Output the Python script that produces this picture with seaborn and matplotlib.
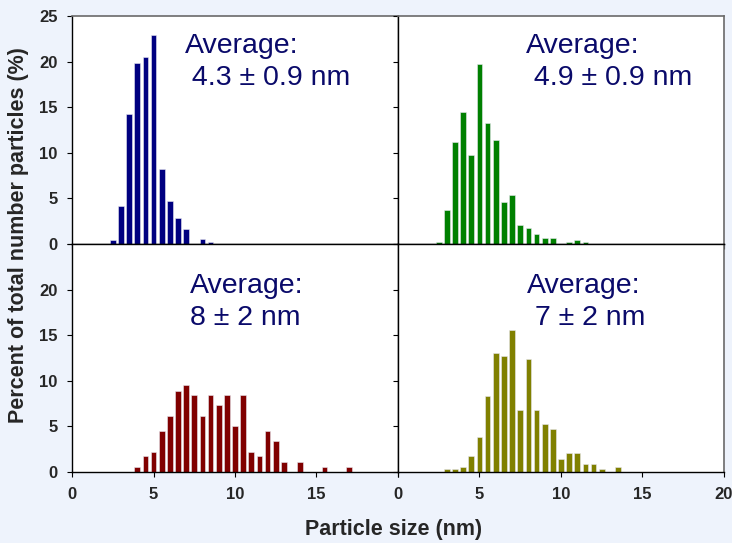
import numpy as np
import pandas as pd
import seaborn as sns
import matplotlib.pyplot as plt

sns.set_style("ticks")
plt.rcParams['font.family'] = ['Liberation Sans', 'DejaVu Sans']

# bin centres (nm) and percent of particles
size_a = [2.5, 3.0, 3.5, 4.0, 4.5, 5.0, 5.5, 6.0, 6.5, 7.0, 8.0, 8.5]
pct_a = [0.45, 4.2, 14.25, 19.9, 20.5, 22.95, 8.25, 4.7, 2.9, 1.6, 0.5, 0.2]

size_b = [2.5, 3.0, 3.5, 4.0, 4.5, 5.0, 5.5, 6.0, 6.5, 7.0, 7.5, 8.0, 8.5,
          9.0, 9.5, 10.5, 11.0, 11.5]
pct_b = [0.2, 3.7, 11.2, 14.5, 9.75, 19.7, 13.3, 11.4, 4.6, 5.4, 2.1, 1.7,
         1.05, 0.65, 0.65, 0.2, 0.45, 0.2]

size_c = [4.0, 4.5, 5.0, 5.5, 6.0, 6.5, 7.0, 7.5, 8.0, 8.5, 9.0, 9.5, 10.0,
          10.5, 11.0, 11.5, 12.0, 12.5, 13.0, 14.0, 15.5, 17.0]
pct_c = [0.55, 1.7, 2.2, 4.45, 6.1, 8.9, 9.5, 8.4, 6.1, 8.4, 7.3, 8.4, 5.0,
         8.4, 2.2, 1.7, 4.45, 3.35, 1.1, 1.1, 0.55, 0.55]

size_d = [3.0, 3.5, 4.0, 4.5, 5.0, 5.5, 6.0, 6.5, 7.0, 7.5, 8.0, 8.5, 9.0,
          9.5, 10.0, 10.5, 11.0, 11.5, 12.0, 12.5, 13.5]
pct_d = [0.3, 0.3, 0.6, 1.8, 3.85, 8.3, 13.0, 12.7, 15.6, 6.8, 12.4, 6.8,
         5.3, 4.7, 1.45, 2.1, 2.1, 0.9, 0.9, 0.3, 0.6]

labels = ["Average:\n 4.3 \u00b1 0.9 nm", "Average:\n 4.9 \u00b1 0.9 nm",
          "Average:\n8 \u00b1 2 nm", "Average:\n 7 \u00b1 2 nm"]
colors = ["#000080", "#008000", "#800000", "#808000"]
label_x = [6.9, 7.85, 7.25, 7.9]

panels = [(size_a, pct_a), (size_b, pct_b), (size_c, pct_c), (size_d, pct_d)]

bg = "#eef3fc"
narrow = ['Liberation Sans Narrow', 'Liberation Sans']

fig, axes = plt.subplots(2, 2, figsize=(7.32, 5.43), dpi=100,
                         sharex=True, sharey=True)
fig.patch.set_facecolor(bg)
fig.subplots_adjust(left=0.0984, right=0.989, top=0.9705, bottom=0.1308,
                    wspace=0, hspace=0)

for i, ax in enumerate(axes.flat):
    sizes, pct = panels[i]
    df = pd.DataFrame({"size": sizes, "pct": pct})
    sns.histplot(data=df, x="size", weights="pct", binwidth=0.5,
                 binrange=(-0.25, 20.25), shrink=0.7,
                 color=colors[i], alpha=1, edgecolor="#e8e8f0", linewidth=0.4,
                 ax=ax)
    ax.set_facecolor("white")
    ax.set_xlabel("")
    ax.set_ylabel("")
    ax.tick_params(direction="out", length=3.5, width=0.8, color="black",
                   pad=7)
    for s in ["top", "right", "left", "bottom"]:
        ax.spines[s].set_color("black")
        ax.spines[s].set_linewidth(1.0)
    ylab_top = 23.1 if i < 2 else 21.8
    ax.text(label_x[i], ylab_top, labels[i], ha="left", va="top",
            fontsize=20.5, color="#0a0a6a", linespacing=1.3)

# outer frame is grey on top and right
for ax in axes[0]:
    ax.spines["top"].set_color("#6a6a6a")
    ax.spines["top"].set_linewidth(1.2)
for ax in axes[:, 1]:
    ax.spines["right"].set_color("#6a6a6a")
    ax.spines["right"].set_linewidth(1.2)

axes[0, 0].set_xlim(0, 20)
axes[0, 0].set_ylim(0, 25)
axes[0, 0].set_xticks([0, 5, 10, 15, 20])
axes[0, 0].set_yticks([0, 5, 10, 15, 20, 25])

# tick labels only where the reference shows them
axes[0, 0].tick_params(labelbottom=False)
axes[0, 1].tick_params(labelbottom=False, labelleft=False)
axes[1, 1].tick_params(labelleft=False)

fig.canvas.draw()
for lab in axes[1, 0].get_yticklabels():
    if lab.get_text() == "25":
        lab.set_visible(False)
for lab in axes[1, 0].get_xticklabels():
    if lab.get_text() == "20":
        lab.set_visible(False)
for ax in axes.flat:
    for lab in ax.get_xticklabels() + ax.get_yticklabels():
        lab.set_fontfamily(narrow)
        lab.set_fontweight('bold')
        lab.set_fontsize(12)

fig.text(0.025, 0.567, "Percent of total number particles (%)", rotation=90,
         ha="center", va="center", fontsize=15.5, fontweight="bold",
         family=narrow)
fig.text(0.538, 0.024, "Particle size (nm)", ha="center", va="center",
         fontsize=15.5, fontweight="bold", family=narrow)

fig.savefig("out.png", dpi=100, facecolor=bg)
